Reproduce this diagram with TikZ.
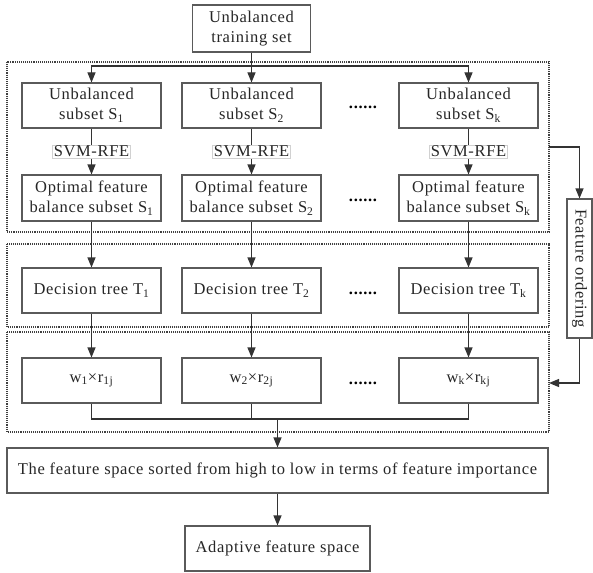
\documentclass[tikz,border=0pt]{standalone}
\usepackage{fontspec}
\setmainfont[LetterSpace=4]{Liberation Serif}
\usetikzlibrary{arrows.meta}
\definecolor{ln}{HTML}{333333}
\definecolor{bx}{HTML}{5A5A5A}
\tikzset{
  box/.style={draw=bx, line width=1.1pt, fill=white, minimum width=139pt, minimum height=45pt, inner sep=1pt, align=center, font=\fontsize{16.5}{20}\selectfont, text=black!85},
  arr/.style={draw=ln, line width=1.1pt, -{Triangle[length=10pt,width=8pt]}},
  ln/.style={draw=ln, line width=1.1pt},
  grp/.style={draw=black!75, line width=1.1pt, densely dotted},
  lbl/.style={draw=black!18, line width=0.6pt, fill=white, inner sep=1pt, font=\fontsize{16.5}{20}\selectfont, text=black!85},
  dots/.style={font=\fontsize{16.5}{20}\selectfont\bfseries, anchor=base, inner sep=0pt}
}
\begin{document}
\begin{tikzpicture}[x=1pt,y=-1pt]
\useasboundingbox (0,0) rectangle (593,572);
% group frames
\draw[grp] (7,62) rectangle (549,232);
\draw[grp] (7,244) rectangle (549,327);
\draw[grp] (7,332) rectangle (549,432);
% nodes
\node[box, minimum width=118pt, minimum height=47pt] (top) at (251.5,28.5) {Unbalanced\\training set};
\node[box] (s1) at (91.5,105.5) {Unbalanced\\subset S\textsubscript{1}};
\node[box] (s2) at (251.5,105.5) {Unbalanced\\subset S\textsubscript{2}};
\node[box] (sk) at (468.5,105.5) {Unbalanced\\subset S\textsubscript{k}};
\node[box, minimum height=46pt] (o1) at (91.5,198) {Optimal feature\\balance subset S\textsubscript{1}};
\node[box, minimum height=46pt] (o2) at (251.5,198) {Optimal feature\\balance subset S\textsubscript{2}};
\node[box, minimum height=46pt] (ok) at (468.5,198) {Optimal feature\\balance subset S\textsubscript{k}};
\node[box] (d1) at (91.5,290.5) {Decision tree T\textsubscript{1}};
\node[box] (d2) at (251.5,290.5) {Decision tree T\textsubscript{2}};
\node[box] (dk) at (468.5,290.5) {Decision tree T\textsubscript{k}};
\node[box] (w1) at (91.5,380.5) {w\textsubscript{1}×r\textsubscript{1j}};
\node[box] (w2) at (251.5,380.5) {w\textsubscript{2}×r\textsubscript{2j}};
\node[box] (wk) at (468.5,380.5) {w\textsubscript{k}×r\textsubscript{kj}};
\node[box, minimum width=541pt] (feat) at (277.5,470.5) {The feature space sorted from high to low in terms of feature importance};
\node[box, minimum width=185pt] (adapt) at (277.5,548.5) {Adaptive feature space};
\node[box, minimum width=25pt, minimum height=139pt, inner sep=0pt] (ord) at (579.5,268.5) {\rotatebox{-90}{Feature ordering}};
% dots
\node[dots] (p1) at (363,109) {......};
\node[dots] (p2) at (363,201) {......};
\node[dots] (p3) at (363,294) {......};
\node[dots] (p4) at (363,384) {......};
% distribution
\coordinate (j) at (251.5,66);
\draw[arr] (top.south) -- (s2.north);
\draw[arr] (j) -| (s1.north);
\draw[arr] (j) -| (sk.north);
% SVM-RFE
\foreach \a/\b in {s1/o1,s2/o2,sk/ok}{
  \draw[arr] (\a.south) -- (\b.north) node[lbl, midway] {SVM-RFE};
}
\foreach \a/\b in {o1/d1,o2/d2,ok/dk,d1/w1,d2/w2,dk/wk}{
  \draw[arr] (\a.south) -- (\b.north);
}
% merge
\coordinate (m) at (277.5,419);
\draw[ln] (w1.south) |- (m);
\draw[ln] (wk.south) |- (m);
\draw[ln] (w2.south) -- (w2.south |- m);
\draw[arr] (m) -- (feat.north);
\draw[arr] (feat.south) -- (adapt.north);
% feature ordering loop
\coordinate (e1) at (549,147);
\coordinate (e3) at (549,383);
\draw[arr] (e1) -| (ord.north);
\draw[arr] (ord.south) |- (e3);
\end{tikzpicture}
\end{document}
